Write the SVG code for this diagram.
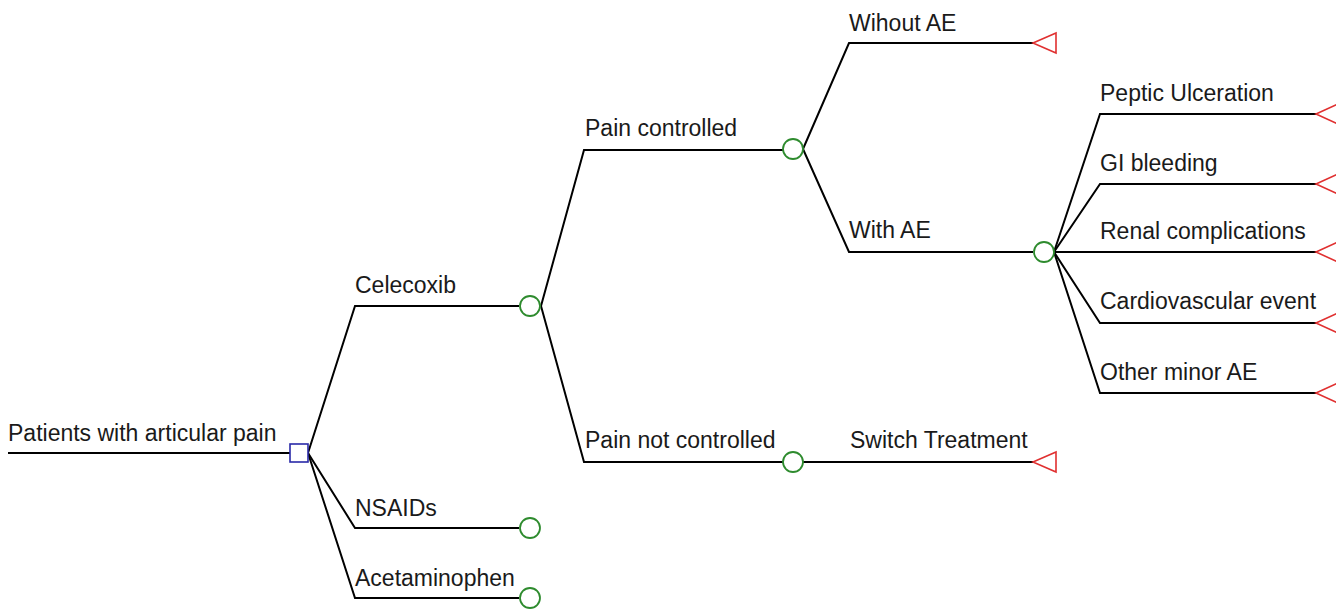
<svg xmlns="http://www.w3.org/2000/svg" width="1336" height="609" viewBox="0 0 1336 609">
<style>
.ln{fill:none;stroke:#000;stroke-width:2}
.ch{fill:#fff;stroke:#2e8b2e;stroke-width:1.8}
.dc{fill:#fff;stroke:#2a2aa8;stroke-width:1.6}
.tm{fill:#fff;stroke:#e03030;stroke-width:1.6}
text{font-family:"Liberation Sans",Arial,sans-serif;font-size:23px;fill:#1a1a1a}
</style>
<rect width="1336" height="609" fill="#fff"/>
<g id="connectors">
<path class="ln" d="M8 453H290"/>
<path class="ln" d="M308 453L355 306H519"/>
<path class="ln" d="M308 453L355 528H519"/>
<path class="ln" d="M308 453L355 598H519"/>
<path class="ln" d="M541 306L584 150H783"/>
<path class="ln" d="M541 306L584 462H783"/>
<path class="ln" d="M803 462H1033"/>
<path class="ln" d="M803 149L849 43H1033"/>
<path class="ln" d="M803 149L849 252H1033"/>
<path class="ln" d="M1054 252L1100 114H1316"/>
<path class="ln" d="M1054 252L1100 184H1316"/>
<path class="ln" d="M1054 252H1316"/>
<path class="ln" d="M1054 252L1100 323H1316"/>
<path class="ln" d="M1054 252L1100 393H1316"/>
</g>
<g id="root"><text x="8" y="441">Patients with articular pain</text></g>
<g id="decision"><rect class="dc" x="290" y="444" width="18" height="18"/></g>
<g id="celecoxib"><text x="355" y="293">Celecoxib</text><circle class="ch" cx="530" cy="306" r="10"/></g>
<g id="nsaids"><text x="355" y="516">NSAIDs</text><circle class="ch" cx="530" cy="528" r="10"/></g>
<g id="acetaminophen"><text x="355" y="586">Acetaminophen</text><circle class="ch" cx="530" cy="598" r="10"/></g>
<g id="pain-controlled"><text x="585" y="136">Pain controlled</text><circle class="ch" cx="793" cy="149" r="10"/></g>
<g id="pain-not-controlled"><text x="585" y="448">Pain not controlled</text><circle class="ch" cx="793" cy="462" r="10"/></g>
<g id="switch-treatment"><text x="850" y="448">Switch Treatment</text><polygon class="tm" points="1033,462 1056,452 1056,472"/></g>
<g id="without-ae"><text x="849" y="31">Wihout AE</text><polygon class="tm" points="1033,43 1056,33 1056,53"/></g>
<g id="with-ae"><text x="849" y="238">With AE</text><circle class="ch" cx="1044" cy="252" r="10"/></g>
<g id="peptic"><text x="1100" y="101">Peptic Ulceration</text><polygon class="tm" points="1316,114 1338,104 1338,124"/></g>
<g id="gi"><text x="1100" y="171">GI bleeding</text><polygon class="tm" points="1316,184 1338,174 1338,194"/></g>
<g id="renal"><text x="1100" y="239">Renal complications</text><polygon class="tm" points="1316,252 1338,242 1338,262"/></g>
<g id="cardio"><text x="1100" y="309">Cardiovascular event</text><polygon class="tm" points="1316,323 1338,313 1338,333"/></g>
<g id="other"><text x="1100" y="380">Other minor AE</text><polygon class="tm" points="1316,393 1338,383 1338,403"/></g>
</svg>
